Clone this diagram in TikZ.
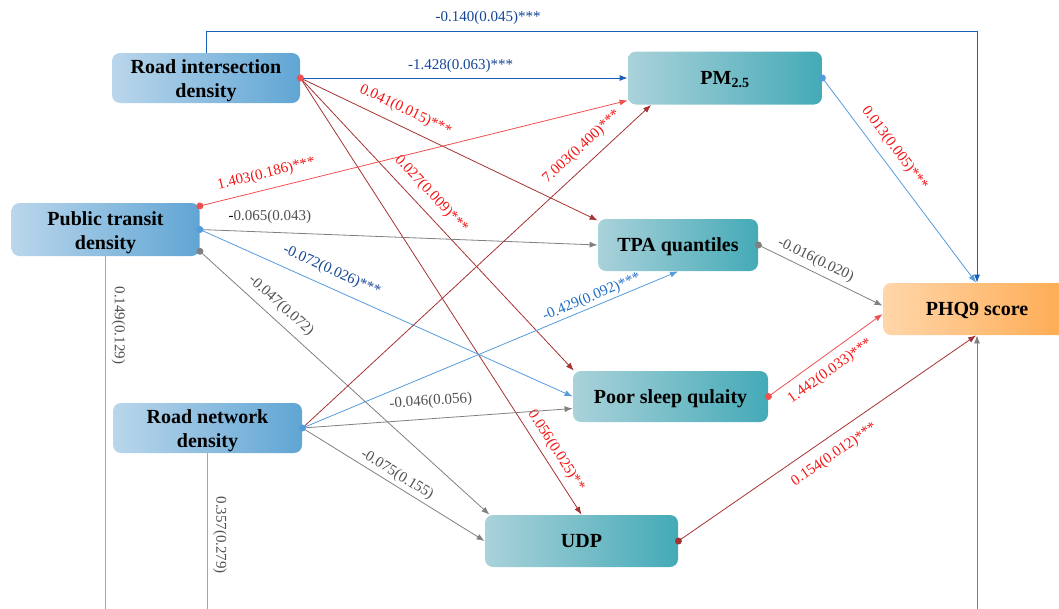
\documentclass[tikz,border=0pt]{standalone}
\usepackage{fontspec}
\setmainfont{Liberation Serif}
\usetikzlibrary{arrows.meta,calc}
\definecolor{envleft}{RGB}{186,214,235}
\definecolor{envright}{RGB}{96,165,212}
\definecolor{medleft}{RGB}{170,210,218}
\definecolor{medright}{RGB}{68,170,183}
\definecolor{outleft}{RGB}{255,214,170}
\definecolor{outright}{RGB}{255,170,80}
\definecolor{darkblue}{RGB}{25,95,185}
\definecolor{lightblue}{RGB}{85,155,220}
\definecolor{darkred}{RGB}{165,50,50}
\definecolor{lightred}{RGB}{240,80,80}
\definecolor{midgray}{RGB}{128,128,128}
\definecolor{palegray}{RGB}{165,165,165}
\definecolor{labblue}{RGB}{20,70,150}
\definecolor{labmidblue}{RGB}{30,110,200}
\definecolor{labred}{RGB}{245,20,20}
\definecolor{labgray}{RGB}{80,80,80}
\tikzstyle{env_state} =
  [ rectangle
  , rounded corners=8pt
  , left color=envleft
  , right color=envright
  , align=center
  , text height=39pt
  , text depth=0pt
  , font=\fontsize{20}{24}\selectfont\bfseries
  ]
\tikzstyle{med_state} =
  [ rectangle
  , rounded corners=8pt
  , left color=medleft
  , right color=medright
  , align=center
  , text depth=0pt
  , font=\fontsize{20}{24}\selectfont\bfseries
  ]
\tikzstyle{out_state} =
  [ rectangle
  , rounded corners=8pt
  , left color=outleft
  , right color=outright
  , align=center
  , text depth=0pt
  , font=\fontsize{20}{24}\selectfont\bfseries
  ]
\tikzstyle{coef} =
  [ font=\fontsize{15}{15}\selectfont
  , inner sep=1pt
  ]
\def\RoadIntersection{Road intersection\\density}
\def\PublicTransit{Public transit\\density}
\def\RoadNetwork{Road network\\density}
\def\PMTwoFive{PM\textsubscript{2.5}}
\def\TPAQuantiles{TPA quantiles}
\def\PHQNine{PHQ9 score}
\def\PoorSleep{Poor sleep qulaity}
\def\UDP{UDP}

\begin{document}
\begin{tikzpicture}[x=1pt,y=-1pt,>={Latex[length=8pt,width=6pt]},line width=0.8pt]
    \useasboundingbox (0,0) rectangle (1059,608);
    \clip (0,0) rectangle (1059,608);

    \node[env_state, minimum width=188pt, minimum height=50pt] (RID)   at (206,  78)   {\RoadIntersection};
    \node[env_state, minimum width=188pt, minimum height=53pt] (PTD)   at (105.5,229.5){\PublicTransit};
    \node[env_state, minimum width=189pt, minimum height=50pt] (RND)   at (207.5,428)  {\RoadNetwork};
    \node[med_state, minimum width=194pt, minimum height=53pt] (PM)    at (725,  78)   {\PMTwoFive};
    \node[med_state, minimum width=160pt, minimum height=52pt] (TPA)   at (678, 245)   {\TPAQuantiles};
    \node[out_state, minimum width=188pt, minimum height=52pt] (PHQ)   at (977, 309)   {\PHQNine};
    \node[med_state, minimum width=195pt, minimum height=51pt] (Sleep) at (670.5,396.5){\PoorSleep};
    \node[med_state, minimum width=193pt, minimum height=52pt] (UDP)   at (581.5,541)  {\UDP};

    \coordinate (PTD_end)  at (PTD.south |- 0,612);
    \coordinate (RND_end)  at (RND.south |- 0,612);
    \coordinate (PHQ_base) at (PHQ.south |- 0,612);

    \draw[->, darkblue]  (RID.north) -- ++(0,-21) -| node[coef, text=labblue, pos=0.183, above=6pt]{-0.140(0.045)***} (PHQ.north);
    \draw[->, darkblue]  (RID.east)  -- node[coef, text=labblue, pos=0.49, above=4pt]{-1.428(0.063)***}              (PM.west);
    \draw[->, darkred]   (RID.east)  -- node[coef, text=labred, sloped, pos=0.33, above=8pt]{0.041(0.015)***}          (TPA.163.5);
    \draw[->, darkred]   (RID.east)  -- node[coef, text=labred, sloped, pos=0.435, above=8pt]{0.027(0.009)***}         (Sleep.165);
    \draw[->, darkred]   (RID.east)  -- node[coef, text=labred, sloped, pos=0.87, above=5pt]{0.056(0.025)**}           (UDP.north);

    \draw[->, lightred]  (PTD.14)    -- node[coef, text=labred, sloped, pos=0.164, above=7pt]{1.403(0.186)***}         (PM.193);
    \draw[->, midgray]   (PTD.east)  -- node[coef, text=labgray, pos=0.176, above=7pt]{{\color{black}-}0.065(0.043)} (TPA.west);
    \draw[->, lightblue] (PTD.east)  -- node[coef, text=labblue, sloped, pos=0.336, above=8pt]{-0.072(0.026)***}       (Sleep.west);
    \draw[->, midgray]   (PTD.-13)   -- node[coef, text=labgray, sloped, pos=0.247, above=6pt]{-0.047(0.072)}          (UDP.164);
    \draw[palegray]      (PTD.south) -- node[coef, text=labgray, pos=0.194, xshift=13pt, rotate=-90]{0.149(0.129)}     (PTD_end);

    \draw[->, darkred]   (RND.east)  -- node[coef, text=labred, sloped, pos=0.833, above=8pt]{7.003(0.400)***}         (PM.200);
    \draw[->, lightblue] (RND.east)  -- node[coef, text=labmidblue, sloped, pos=0.78, above=1pt]{-0.429(0.092)***}     (TPA.south);
    \draw[->, midgray]   (RND.east)  -- node[coef, text=labgray, sloped, pos=0.48, above=9pt]{-0.046(0.056)}           (Sleep.187);
    \draw[->, midgray]   (RND.east)  -- node[coef, text=labgray, sloped, pos=0.49, above=2pt]{-0.075(0.155)}           (UDP.west);
    \draw[palegray]      (RND.south) -- node[coef, text=labgray, pos=0.516, xshift=12.5pt, rotate=-90]{0.357(0.279)}   (RND_end);

    \draw[->, lightblue] (PM.east)    -- node[coef, text=labred, sloped, pos=0.39, above=7pt]{0.013(0.005)***}         (PHQ.92);
    \draw[->, midgray]   (TPA.east)   -- node[coef, text=labgray, sloped, pos=0.42, above=3.5pt]{-0.016(0.020)}        (PHQ.178);
    \draw[->, lightred]  (Sleep.east) -- node[coef, text=labred, sloped, pos=0.46, below=7.5pt]{1.442(0.033)***}       (PHQ.183);
    \draw[->, darkred]   (UDP.east)   -- node[coef, text=labred, sloped, pos=0.49, below=9.5pt]{0.154(0.012)***}       (PHQ.-92);
    \draw[->, midgray]   (PHQ_base)   -- (PHQ.south);

    \foreach \where/\col in {RID.east/lightred, PTD.14/lightred, PTD.east/lightblue, PTD.-13/midgray,
                             RND.east/lightblue, PM.east/lightblue, TPA.east/midgray, Sleep.east/lightred, UDP.east/darkred}
      \fill[\col] (\where) circle (3.5pt);
  \end{tikzpicture}
\end{document}
